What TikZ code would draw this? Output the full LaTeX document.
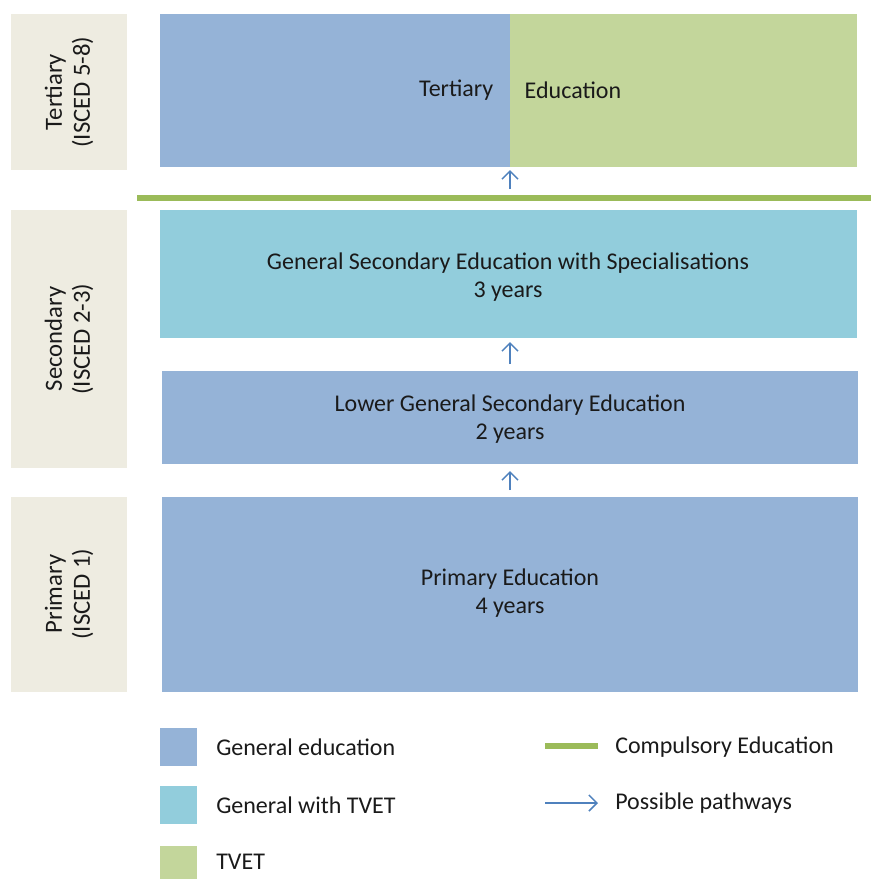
\documentclass[tikz,border=0pt]{standalone}
\usepackage{fontspec}
\setmainfont{Carlito}
\usetikzlibrary{arrows.meta}
\definecolor{genblue}{HTML}{95B3D7}
\definecolor{tvetgreen}{HTML}{C3D69B}
\definecolor{gencyan}{HTML}{92CDDC}
\definecolor{beige}{HTML}{EEECE1}
\definecolor{compgreen}{HTML}{9BBB59}
\definecolor{arrowblue}{HTML}{4F81BD}
\definecolor{txt}{HTML}{1A1A1A}
\tikzset{
  lvltext/.style={rotate=90, align=center, font=\fontsize{18.5}{21}\selectfont, text=txt},
  boxtext/.style={align=center, font=\fontsize{18}{21}\selectfont, text=txt},
  legtext/.style={anchor=west, font=\fontsize{18}{21}\selectfont, text=txt, inner sep=0pt},
  path/.style={draw=arrowblue, line width=1.1pt, -{Straight Barb[length=6pt,width=12pt,line width=1.1pt]}},
  comp/.style={draw=compgreen, line width=4pt}
}
\begin{document}
\begin{tikzpicture}[x=0.75pt,y=-0.75pt]
\useasboundingbox (0,0) rectangle (871,879);
% level label boxes
\fill[beige] (11,14) rectangle (127,170);
\node[lvltext] (lt) at (69,92) {Tertiary\\(ISCED 5-8)};
\fill[beige] (11,210) rectangle (127,468);
\node[lvltext] (ls) at (69,339) {Secondary\\(ISCED 2-3)};
\fill[beige] (11,497) rectangle (127,692);
\node[lvltext] (lp) at (69,594) {Primary\\(ISCED 1)};
% tertiary
\fill[genblue] (160,14) rectangle (510,167);
\fill[tvetgreen] (510,14) rectangle (857,167);
\node[boxtext, anchor=east] (tl) at (498,90) {Tertiary};
\node[boxtext, anchor=west] (tr) at (520,90) {Education};
% compulsory line
\draw[comp] (137,198) -- (871,198);
% secondary upper
\fill[gencyan] (160,210) rectangle (857,338);
\node[boxtext] (gs) at (508,277) {General Secondary Education with Specialisations\\3 years};
% lower secondary
\fill[genblue] (162,371) rectangle (858,464);
\node[boxtext] (lg) at (510,419) {Lower General Secondary Education\\2 years};
% primary
\fill[genblue] (162,497) rectangle (858,692);
\node[boxtext] (pe) at (510,593) {Primary Education\\4 years};
% pathways
\coordinate (a1s) at (510,189);
\coordinate (a1e) at (510,170);
\draw[path] (a1s) -- (a1e);
\coordinate (a2s) at (510,364);
\coordinate (a2e) at (510,342);
\draw[path] (a2s) -- (a2e);
\coordinate (a3s) at (510,490);
\coordinate (a3e) at (510,471);
\draw[path] (a3s) -- (a3e);
% legend
\fill[genblue] (160,728) rectangle (197,766);
\node[legtext] (l1) at (216,747) {General education};
\fill[gencyan] (160,786) rectangle (197,824);
\node[legtext] (l2) at (216,805) {General with TVET};
\fill[tvetgreen] (160,846) rectangle (197,879);
\node[legtext] (l3) at (216,862) {TVET};
\coordinate (c1) at (545,746);
\coordinate (c2) at (598,746);
\draw[comp] (c1) -- (c2);
\node[legtext] (l4) at (615,747) {Compulsory Education};
\coordinate (p1) at (545,803);
\coordinate (p2) at (598,803);
\draw[path] (p1) -- (p2);
\node[legtext] (l5) at (615,803) {Possible pathways};
\end{tikzpicture}
\end{document}
